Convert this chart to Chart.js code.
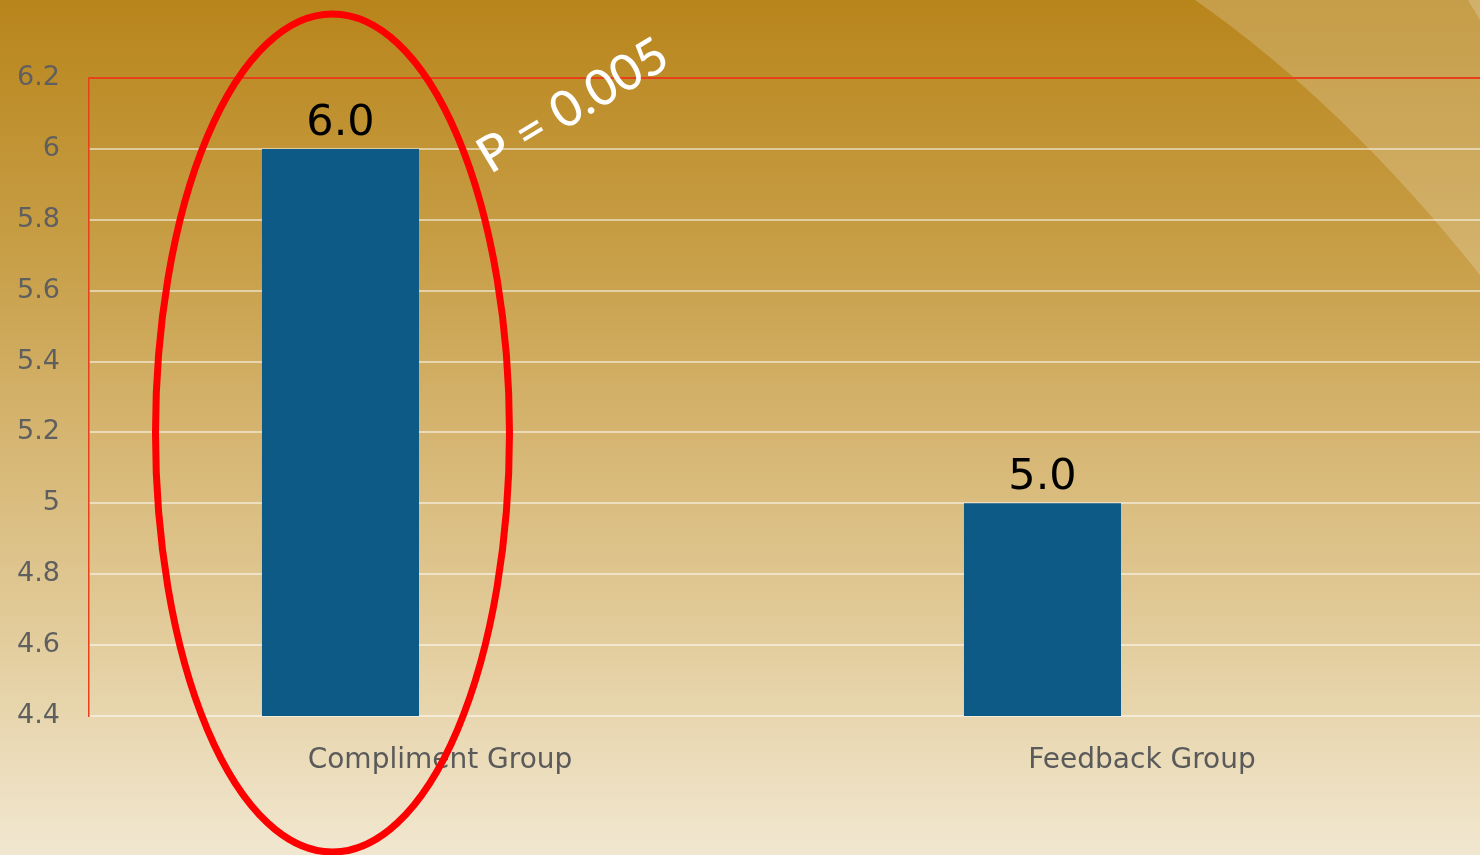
<!DOCTYPE html>
<html>
<head>
<meta charset="utf-8">
<script src="https://cdn.jsdelivr.net/npm/chart.js@4.4.1/dist/chart.umd.min.js"></script>
<style>
  html, body { margin: 0; padding: 0; overflow: hidden; }
  #wrap { width: 1480px; height: 855px; overflow: hidden; position: relative; }
  #box { width: 1493px; height: 855px; }
</style>
</head>
<body>
<div id="wrap"><div id="box"><canvas id="myChart"></canvas></div></div>
<script>
// data
const groups = ['Compliment Group', 'Feedback Group'];
const scores = [6.0, 5.0];
const spacer = [null, null]; // empty second series, keeps the bars left of centre
const yTicks = [4.4, 4.6, 4.8, 5.0, 5.2, 5.4, 5.6, 5.8, 6.0, 6.2];
const pLabel = 'P = 0.005';

// slide background: gold gradient + light swoosh top right
const backdrop = {
  id: 'backdrop',
  beforeDraw(chart) {
    const c = chart.ctx, w = chart.width, h = chart.height;
    c.save();
    const g = c.createLinearGradient(0, 0, 0, h);
    g.addColorStop(0, '#b8851b');
    g.addColorStop(0.3, '#c89f48');
    g.addColorStop(0.5, '#d5b46f');
    g.addColorStop(0.75, '#e3cd9d');
    g.addColorStop(1, '#f1e7d0');
    c.fillStyle = g;
    c.fillRect(0, 0, w, h);
    c.fillStyle = 'rgba(255,255,255,0.2)';
    c.beginPath();
    c.moveTo(1195, 0);
    c.quadraticCurveTo(1345, 105, 1480, 275);
    c.lineTo(w, 275);
    c.lineTo(w, 0);
    c.closePath();
    c.fill();
    c.beginPath();
    c.moveTo(1468, 0);
    c.lineTo(1480, 20);
    c.lineTo(w, 20);
    c.lineTo(w, 0);
    c.closePath();
    c.fill();
    c.restore();
  }
};

// value labels, the ellipse and the p-value
const extras = {
  id: 'extras',
  afterDatasetsDraw(chart) {
    const c = chart.ctx;
    const meta = chart.getDatasetMeta(0);
    c.save();
    c.fillStyle = '#000';
    c.font = '43px "DejaVu Sans"';
    c.textAlign = 'center';
    c.textBaseline = 'alphabetic';
    meta.data.forEach((bar, i) => {
      c.fillText(scores[i].toFixed(1), bar.x, bar.y - 14);
    });
    // ellipse round the first bar
    const b = meta.data[0];
    c.strokeStyle = '#ff0000';
    c.lineWidth = 7;
    c.beginPath();
    c.ellipse(b.x - 8, 433, 177, 419, 0, 0, Math.PI * 2);
    c.stroke();
    // p-value
    c.translate(573, 106);
    c.rotate(-31 * Math.PI / 180);
    c.fillStyle = '#ffffff';
    c.font = '500 50px Lato';
    c.textBaseline = 'middle';
    c.fillText(pLabel, 0, 0);
    c.restore();
  }
};

const ctx = document.getElementById('myChart').getContext('2d');
const myChart = new Chart(ctx, {
  type: 'bar',
  data: {
    labels: groups,
    datasets: [
      { data: scores, backgroundColor: '#0d5a87', categoryPercentage: 0.567, barPercentage: 0.789 },
      { data: spacer, backgroundColor: 'transparent', categoryPercentage: 0.567, barPercentage: 0.789 }
    ]
  },
  options: {
    responsive: true,
    maintainAspectRatio: false,
    animation: false,
    layout: { padding: { top: 78, right: 0, left: 0, bottom: 0 } },
    plugins: { legend: { display: false }, tooltip: { enabled: false } },
    scales: {
      x: {
        grid: { display: false, drawTicks: false },
        border: { display: false },
        ticks: { color: '#5a5a5a', font: { family: 'DejaVu Sans', size: 28 }, padding: 28 },
        afterFit(s) { s.height = 139; }
      },
      y: {
        min: 4.4,
        max: 6.2,
        afterBuildTicks(s) { s.ticks = yTicks.map(v => ({ value: v })); },
        grid: {
          drawTicks: false,
          lineWidth: 2,
          color: (c) => (c.tick && Math.abs(c.tick.value - 6.2) < 1e-6) ? '#e8401a' : 'rgba(255,255,255,0.5)'
        },
        border: { color: '#e8401a', width: 1.5 },
        ticks: {
          color: '#5f5f5f',
          font: { family: 'DejaVu Sans', size: 27 },
          padding: 29,
          callback: (v) => String(Number(v.toFixed(1)))
        },
        afterFit(s) { s.width = 89; }
      }
    }
  },
  plugins: [backdrop, extras]
});
</script>
</body>
</html>
